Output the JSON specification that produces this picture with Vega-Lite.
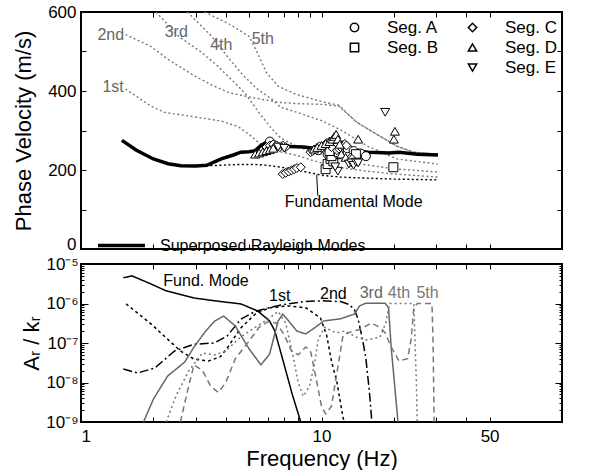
{
  "$schema": "https://vega.github.io/schema/vega-lite/v6.json",
  "padding": {"left": 11, "top": 2, "right": 23, "bottom": 0},
  "bounds": "flush",
  "config": {
    "font": "Liberation Sans",
    "view": {"stroke": "black", "strokeWidth": 2},
    "axis": {"domain": false, "grid": false, "labelFont": "Liberation Sans", "labelFontSize": 17, "labelColor": "black", "titleFont": "Liberation Sans", "titleFontSize": 22, "titleFontWeight": "normal", "titleColor": "black", "tickColor": "black", "tickWidth": 1},
    "legend": {"labelFont": "Liberation Sans", "labelColor": "black", "labelLimit": 0}
  },
  "datasets": {
    "modesTop": [
      {"mode":"Fundamental","f":1.48,"v":275},{"mode":"Fundamental","f":1.7,"v":250},{"mode":"Fundamental","f":2.0,"v":228},{"mode":"Fundamental","f":2.3,"v":216},{"mode":"Fundamental","f":2.6,"v":211},{"mode":"Fundamental","f":3.0,"v":210},{"mode":"Fundamental","f":3.5,"v":211},{"mode":"Fundamental","f":4.5,"v":214},{"mode":"Fundamental","f":5.3,"v":214},{"mode":"Fundamental","f":5.9,"v":212},{"mode":"Fundamental","f":6.8,"v":207},{"mode":"Fundamental","f":7.8,"v":201},{"mode":"Fundamental","f":8.8,"v":194},{"mode":"Fundamental","f":10.2,"v":186},{"mode":"Fundamental","f":12,"v":182},{"mode":"Fundamental","f":14.5,"v":180},{"mode":"Fundamental","f":20,"v":177},{"mode":"Fundamental","f":30.5,"v":175},
      {"mode":"1st","f":1.53,"v":405},{"mode":"1st","f":1.95,"v":362},{"mode":"1st","f":2.22,"v":346},{"mode":"1st","f":2.93,"v":335},{"mode":"1st","f":3.83,"v":324},{"mode":"1st","f":4.5,"v":310},{"mode":"1st","f":5.0,"v":290},{"mode":"1st","f":5.6,"v":265},{"mode":"1st","f":6.2,"v":250},{"mode":"1st","f":7,"v":244},{"mode":"1st","f":8,"v":236},{"mode":"1st","f":9,"v":226},{"mode":"1st","f":10,"v":218},{"mode":"1st","f":12,"v":206},{"mode":"1st","f":15,"v":198},{"mode":"1st","f":20,"v":190},{"mode":"1st","f":30.5,"v":182},
      {"mode":"2nd","f":1.53,"v":543},{"mode":"2nd","f":1.95,"v":513},{"mode":"2nd","f":2.3,"v":480},{"mode":"2nd","f":2.93,"v":440},{"mode":"2nd","f":3.5,"v":415},{"mode":"2nd","f":4.15,"v":395},{"mode":"2nd","f":5.0,"v":385},{"mode":"2nd","f":6.0,"v":376},{"mode":"2nd","f":6.75,"v":371},{"mode":"2nd","f":8,"v":368},{"mode":"2nd","f":10.2,"v":366},{"mode":"2nd","f":11.8,"v":362},{"mode":"2nd","f":14,"v":321},{"mode":"2nd","f":16.9,"v":291},{"mode":"2nd","f":20.6,"v":260},{"mode":"2nd","f":24.2,"v":245},{"mode":"2nd","f":30.5,"v":240},
      {"mode":"3rd","f":2.05,"v":600},{"mode":"3rd","f":2.55,"v":538},{"mode":"3rd","f":3.17,"v":498},{"mode":"3rd","f":3.7,"v":463},{"mode":"3rd","f":4.2,"v":430},{"mode":"3rd","f":4.8,"v":395},{"mode":"3rd","f":5.5,"v":345},{"mode":"3rd","f":6.2,"v":305},{"mode":"3rd","f":6.8,"v":280},{"mode":"3rd","f":8,"v":258},{"mode":"3rd","f":10,"v":240},{"mode":"3rd","f":12,"v":227},{"mode":"3rd","f":15,"v":214},{"mode":"3rd","f":20,"v":203},{"mode":"3rd","f":30.5,"v":195},
      {"mode":"4th","f":2.77,"v":600},{"mode":"4th","f":3.17,"v":564},{"mode":"4th","f":3.5,"v":538},{"mode":"4th","f":4.15,"v":480},{"mode":"4th","f":4.77,"v":437},{"mode":"4th","f":5.43,"v":404},{"mode":"4th","f":6.2,"v":380},{"mode":"4th","f":6.75,"v":359},{"mode":"4th","f":8,"v":345},{"mode":"4th","f":10,"v":325},{"mode":"4th","f":11.9,"v":303},{"mode":"4th","f":15.6,"v":260},{"mode":"4th","f":20.6,"v":228},{"mode":"4th","f":30.5,"v":215},
      {"mode":"5th","f":3.26,"v":600},{"mode":"5th","f":4.15,"v":569},{"mode":"5th","f":5.0,"v":538},{"mode":"5th","f":5.4,"v":498},{"mode":"5th","f":5.9,"v":447},{"mode":"5th","f":6.6,"v":412},{"mode":"5th","f":7.8,"v":392},{"mode":"5th","f":10.2,"v":372},{"mode":"5th","f":11.8,"v":364},{"mode":"5th","f":14,"v":321},{"mode":"5th","f":16.9,"v":291},{"mode":"5th","f":20.6,"v":260},{"mode":"5th","f":24.2,"v":245},{"mode":"5th","f":30.5,"v":240}
    ],
    "superposed": [
      {"f":1.48,"v":275},{"f":1.7,"v":250},{"f":2.0,"v":228},{"f":2.3,"v":216},{"f":2.6,"v":211},{"f":3.0,"v":210},{"f":3.33,"v":212},{"f":3.83,"v":228},{"f":4.3,"v":238},{"f":4.62,"v":245},{"f":5.0,"v":246},{"f":5.3,"v":249},{"f":5.6,"v":262},{"f":5.9,"v":270},{"f":6.2,"v":268},{"f":6.9,"v":260},{"f":8.4,"v":258},{"f":9.9,"v":253},{"f":11,"v":260},{"f":12.6,"v":260},{"f":13.5,"v":252},{"f":14.4,"v":248},{"f":15.6,"v":245},{"f":17,"v":244},{"f":19,"v":243},{"f":21,"v":245},{"f":25,"v":240},{"f":30.5,"v":238}
    ],
    "points": [
      {"seg":"Seg. A","f":6.1,"v":272},{"seg":"Seg. A","f":6.4,"v":262},{"seg":"Seg. A","f":9.7,"v":250},{"seg":"Seg. A","f":11.6,"v":258},{"seg":"Seg. A","f":12.3,"v":262},{"seg":"Seg. A","f":12.8,"v":255},{"seg":"Seg. A","f":13.6,"v":248},{"seg":"Seg. A","f":14.5,"v":242},{"seg":"Seg. A","f":15.3,"v":235},{"seg":"Seg. A","f":10.6,"v":240},
      {"seg":"Seg. B","f":10.4,"v":202},{"seg":"Seg. B","f":10.6,"v":215},{"seg":"Seg. B","f":10.9,"v":228},{"seg":"Seg. B","f":11.2,"v":222},{"seg":"Seg. B","f":11.5,"v":240},{"seg":"Seg. B","f":11.0,"v":235},{"seg":"Seg. B","f":13.9,"v":240},{"seg":"Seg. B","f":19.9,"v":207},{"seg":"Seg. B","f":10.8,"v":248},{"seg":"Seg. B","f":11.8,"v":245},
      {"seg":"Seg. C","f":5.9,"v":258},{"seg":"Seg. C","f":6.1,"v":262},{"seg":"Seg. C","f":6.3,"v":265},{"seg":"Seg. C","f":6.5,"v":262},{"seg":"Seg. C","f":6.7,"v":258},{"seg":"Seg. C","f":6.9,"v":262},{"seg":"Seg. C","f":7.1,"v":258},
      {"seg":"Seg. C","f":6.9,"v":190},{"seg":"Seg. C","f":7.1,"v":193},{"seg":"Seg. C","f":7.3,"v":196},{"seg":"Seg. C","f":7.5,"v":199},{"seg":"Seg. C","f":7.7,"v":202},{"seg":"Seg. C","f":7.9,"v":205},{"seg":"Seg. C","f":8.2,"v":207},
      {"seg":"Seg. C","f":9.0,"v":245},{"seg":"Seg. C","f":9.2,"v":248},{"seg":"Seg. C","f":9.4,"v":252},{"seg":"Seg. C","f":9.6,"v":256},{"seg":"Seg. C","f":9.8,"v":260},{"seg":"Seg. C","f":10.0,"v":255},{"seg":"Seg. C","f":10.3,"v":262},{"seg":"Seg. C","f":10.5,"v":268},{"seg":"Seg. C","f":10.8,"v":272},{"seg":"Seg. C","f":11.0,"v":258},
      {"seg":"Seg. C","f":11.6,"v":250},{"seg":"Seg. C","f":11.8,"v":254},{"seg":"Seg. C","f":12.0,"v":258},{"seg":"Seg. C","f":12.2,"v":262},{"seg":"Seg. C","f":12.5,"v":266},{"seg":"Seg. C","f":12.7,"v":262},{"seg":"Seg. C","f":13.2,"v":230},{"seg":"Seg. C","f":13.4,"v":228},
      {"seg":"Seg. D","f":5.3,"v":240},{"seg":"Seg. D","f":5.5,"v":243},{"seg":"Seg. D","f":5.7,"v":246},{"seg":"Seg. D","f":5.9,"v":249},{"seg":"Seg. D","f":6.1,"v":252},{"seg":"Seg. D","f":6.3,"v":255},
      {"seg":"Seg. D","f":9.3,"v":253},{"seg":"Seg. D","f":9.6,"v":257},{"seg":"Seg. D","f":10.0,"v":262},{"seg":"Seg. D","f":10.4,"v":267},{"seg":"Seg. D","f":10.8,"v":272},{"seg":"Seg. D","f":11.1,"v":278},{"seg":"Seg. D","f":11.3,"v":285},{"seg":"Seg. D","f":11.5,"v":290},{"seg":"Seg. D","f":11.7,"v":278},{"seg":"Seg. D","f":11.9,"v":265},{"seg":"Seg. D","f":12.1,"v":240},{"seg":"Seg. D","f":12.6,"v":232},{"seg":"Seg. D","f":14.2,"v":278},{"seg":"Seg. D","f":20.2,"v":298},{"seg":"Seg. D","f":20.0,"v":278},
      {"seg":"Seg. E","f":6.6,"v":258},{"seg":"Seg. E","f":7.0,"v":255},{"seg":"Seg. E","f":11.7,"v":197},{"seg":"Seg. E","f":13.0,"v":215},{"seg":"Seg. E","f":13.3,"v":218},{"seg":"Seg. E","f":13.6,"v":212},{"seg":"Seg. E","f":13.9,"v":220},{"seg":"Seg. E","f":14.2,"v":218},{"seg":"Seg. E","f":18.4,"v":346},{"seg":"Seg. E","f":11.4,"v":208}
    ],
    "labelsTop": [
      {"t":"1st","f":1.36,"v":410},{"t":"2nd","f":1.33,"v":543},{"t":"3rd","f":2.49,"v":549},{"t":"4th","f":3.83,"v":517},{"t":"5th","f":5.7,"v":531}
    ],
    "fundNote": [{"t":"Fundamental Mode","f":13.6,"v":119,"f1":9.55,"v1":188,"f2":9.65,"v2":135}],
    "modesBottom": [
      {"mode":"Fund","f":1.5,"A":4.47e-6},{"mode":"Fund","f":1.63,"A":5.01e-6},{"mode":"Fund","f":1.96,"A":3.09e-6},{"mode":"Fund","f":2.26,"A":2.09e-6},{"mode":"Fund","f":2.95,"A":1.38e-6},{"mode":"Fund","f":3.67,"A":1.15e-6},{"mode":"Fund","f":4.62,"A":9.77e-7},{"mode":"Fund","f":5.43,"A":6.46e-7},{"mode":"Fund","f":6.08,"A":3.63e-7},{"mode":"Fund","f":6.4,"A":2.0e-7},{"mode":"Fund","f":6.93,"A":3.47e-8},{"mode":"Fund","f":7.55,"A":5.13e-9},{"mode":"Fund","f":8.2,"A":1.0e-9},
      {"mode":"1st","f":1.54,"A":9.8e-7},{"mode":"1st","f":1.96,"A":3.0e-7},{"mode":"1st","f":2.26,"A":1.35e-7},{"mode":"1st","f":2.59,"A":6.3e-8},{"mode":"1st","f":2.95,"A":3.9e-8},{"mode":"1st","f":3.39,"A":3.5e-8},{"mode":"1st","f":3.8,"A":4.5e-8},{"mode":"1st","f":4.05,"A":7.4e-8},{"mode":"1st","f":4.62,"A":2.4e-7},{"mode":"1st","f":5.3,"A":5.4e-7},{"mode":"1st","f":6.08,"A":7.8e-7},{"mode":"1st","f":7.3,"A":8.7e-7},{"mode":"1st","f":8.6,"A":7.8e-7},{"mode":"1st","f":9.9,"A":4.3e-7},{"mode":"1st","f":10.5,"A":1.6e-7},{"mode":"1st","f":11,"A":3.5e-8},{"mode":"1st","f":11.6,"A":1.0e-8},{"mode":"1st","f":12.3,"A":1.26e-9},{"mode":"1st","f":12.45,"A":1.0e-9},
      {"mode":"2nd","f":1.5,"A":2.19e-8},{"mode":"2nd","f":1.72,"A":1.74e-8},{"mode":"2nd","f":2.03,"A":2.34e-8},{"mode":"2nd","f":2.45,"A":6.3e-8},{"mode":"2nd","f":2.95,"A":9.3e-8},{"mode":"2nd","f":3.58,"A":1.0e-7},{"mode":"2nd","f":4.05,"A":1.5e-7},{"mode":"2nd","f":4.62,"A":4.0e-7},{"mode":"2nd","f":5.3,"A":6.3e-7},{"mode":"2nd","f":6.1,"A":7.9e-7},{"mode":"2nd","f":7.0,"A":9.5e-7},{"mode":"2nd","f":8.5,"A":1.12e-6},{"mode":"2nd","f":10,"A":1.17e-6},{"mode":"2nd","f":12,"A":1.12e-6},{"mode":"2nd","f":13,"A":9.5e-7},{"mode":"2nd","f":13.7,"A":7.1e-7},{"mode":"2nd","f":14.2,"A":4.0e-7},{"mode":"2nd","f":14.8,"A":1.26e-7},{"mode":"2nd","f":15.3,"A":4.0e-8},{"mode":"2nd","f":15.8,"A":6.3e-9},{"mode":"2nd","f":16.2,"A":1.0e-9},
      {"mode":"3rd","f":1.82,"A":1.0e-9},{"mode":"3rd","f":2.0,"A":3.8e-9},{"mode":"3rd","f":2.29,"A":1.45e-8},{"mode":"3rd","f":2.7,"A":3.3e-8},{"mode":"3rd","f":2.95,"A":7.9e-8},{"mode":"3rd","f":3.3,"A":2.0e-7},{"mode":"3rd","f":3.6,"A":3.6e-7},{"mode":"3rd","f":3.92,"A":4.8e-7},{"mode":"3rd","f":4.38,"A":2.7e-7},{"mode":"3rd","f":5.0,"A":7.1e-8},{"mode":"3rd","f":5.6,"A":2.8e-8},{"mode":"3rd","f":6.08,"A":5.2e-8},{"mode":"3rd","f":6.6,"A":3.6e-7},{"mode":"3rd","f":6.9,"A":5.4e-7},{"mode":"3rd","f":7.3,"A":3.6e-7},{"mode":"3rd","f":7.9,"A":2.0e-7},{"mode":"3rd","f":8.6,"A":1.7e-7},{"mode":"3rd","f":9.35,"A":2.4e-7},{"mode":"3rd","f":10.2,"A":3.6e-7},{"mode":"3rd","f":12,"A":4.1e-7},{"mode":"3rd","f":13.7,"A":5.4e-7},{"mode":"3rd","f":14.4,"A":8.7e-7},{"mode":"3rd","f":15.3,"A":1.02e-6},{"mode":"3rd","f":18.4,"A":1.02e-6},{"mode":"3rd","f":19,"A":7.8e-7},{"mode":"3rd","f":19.5,"A":7.4e-8},{"mode":"3rd","f":20.3,"A":5.1e-9},{"mode":"3rd","f":20.8,"A":1.0e-9},
      {"mode":"4th","f":2.26,"A":1.0e-9},{"mode":"4th","f":2.5,"A":5.0e-9},{"mode":"4th","f":2.81,"A":2.0e-8},{"mode":"4th","f":3.2,"A":5.6e-8},{"mode":"4th","f":3.6,"A":5.0e-8},{"mode":"4th","f":4.0,"A":6.3e-8},{"mode":"4th","f":4.6,"A":1.4e-7},{"mode":"4th","f":5.3,"A":2.5e-7},{"mode":"4th","f":6.0,"A":4.0e-7},{"mode":"4th","f":6.6,"A":6.3e-7},{"mode":"4th","f":7.1,"A":3.2e-7},{"mode":"4th","f":7.6,"A":5.0e-8},{"mode":"4th","f":8.0,"A":1.0e-8},{"mode":"4th","f":8.4,"A":4.5e-9},{"mode":"4th","f":8.9,"A":7.9e-9},{"mode":"4th","f":9.3,"A":2.5e-8},{"mode":"4th","f":9.7,"A":1.26e-7},{"mode":"4th","f":10.3,"A":2.5e-7},{"mode":"4th","f":11.5,"A":1.8e-7},{"mode":"4th","f":12.5,"A":2.0e-7},{"mode":"4th","f":14,"A":1.4e-7},{"mode":"4th","f":15.5,"A":1.2e-7},{"mode":"4th","f":17.5,"A":1.4e-7},{"mode":"4th","f":18.5,"A":3.2e-7},{"mode":"4th","f":19.2,"A":1.0e-6},{"mode":"4th","f":24.2,"A":1.0e-6},{"mode":"4th","f":24.5,"A":1.0e-7},{"mode":"4th","f":24.8,"A":1.0e-8},{"mode":"4th","f":25.0,"A":1.0e-9},
      {"mode":"5th","f":2.59,"A":1.0e-9},{"mode":"5th","f":2.8,"A":7.9e-9},{"mode":"5th","f":2.95,"A":2.8e-8},{"mode":"5th","f":3.2,"A":2.0e-8},{"mode":"5th","f":3.47,"A":7.9e-9},{"mode":"5th","f":3.73,"A":5.6e-9},{"mode":"5th","f":4.0,"A":1.0e-8},{"mode":"5th","f":4.38,"A":4.0e-8},{"mode":"5th","f":5.0,"A":1.12e-7},{"mode":"5th","f":5.5,"A":2.5e-7},{"mode":"5th","f":6.0,"A":3.5e-7},{"mode":"5th","f":6.5,"A":3.2e-7},{"mode":"5th","f":7.0,"A":1.6e-7},{"mode":"5th","f":7.5,"A":6.3e-8},{"mode":"5th","f":8.0,"A":5.0e-8},{"mode":"5th","f":8.6,"A":7.9e-8},{"mode":"5th","f":9.0,"A":6.3e-8},{"mode":"5th","f":9.5,"A":1.26e-8},{"mode":"5th","f":10.0,"A":2.5e-9},{"mode":"5th","f":10.4,"A":1.6e-9},{"mode":"5th","f":11.0,"A":2.5e-9},{"mode":"5th","f":11.7,"A":2.5e-8},{"mode":"5th","f":12.3,"A":1.6e-7},{"mode":"5th","f":13.5,"A":2.0e-7},{"mode":"5th","f":14.5,"A":2.2e-7},{"mode":"5th","f":16.1,"A":3.2e-7},{"mode":"5th","f":17.5,"A":2.5e-7},{"mode":"5th","f":18.4,"A":1.8e-7},{"mode":"5th","f":19.5,"A":7.9e-8},{"mode":"5th","f":21,"A":3.5e-8},{"mode":"5th","f":22.8,"A":4.0e-8},{"mode":"5th","f":23.6,"A":1.26e-7},{"mode":"5th","f":24.2,"A":7.9e-7},{"mode":"5th","f":25,"A":1.0e-6},{"mode":"5th","f":28.8,"A":1.0e-6},{"mode":"5th","f":29.1,"A":1.0e-7},{"mode":"5th","f":29.4,"A":1.0e-9}
    ],
    "labelsBottom": [
      {"mode":"Fund","t":"Fund. Mode","f":3.31,"A":3.7e-6},{"mode":"1st","t":"1st","f":6.7,"A":1.55e-6},{"mode":"2nd","t":"2nd","f":11.2,"A":1.74e-6},{"mode":"3rd","t":"3rd","f":16.1,"A":1.86e-6},{"mode":"4th","t":"4th","f":21.0,"A":1.86e-6},{"mode":"5th","t":"5th","f":27.6,"A":1.86e-6}
    ]
  },
  "vconcat": [
    {
      "width": 481,
      "height": 237,
      "layer": [
        {
          "data": {"name": "modesTop"},
          "transform": [{"filter": "datum.mode == 'Fundamental'"}],
          "mark": {"type": "line", "color": "black", "strokeDash": [2, 2.5], "strokeWidth": 1.4, "clip": true},
          "encoding": {
            "x": {"field": "f", "type": "quantitative", "scale": {"type": "log", "domain": [1, 50]},
                  "axis": {"orient": "bottom", "values": [1,2,3,4,5,6,7,8,9,10,20,30,40,50], "labels": false, "tickSize": -5, "title": null, "minExtent": 0, "maxExtent": 0}},
            "y": {"field": "v", "type": "quantitative", "scale": {"domain": [0, 600]},
                  "axis": {"orient": "left", "values": [0,100,200,300,400,500,600], "labelExpr": "datum.value % 200 == 0 ? datum.label : ''",
                           "labelBaseline": {"condition": {"test": "datum.value == 0", "value": "alphabetic"}, "value": "middle"},
                           "tickSize": -5, "labelPadding": 10, "title": "Phase Velocity (m/s)", "titlePadding": 12}}
          }
        },
        {
          "data": {"name": "modesTop"},
          "transform": [{"filter": "datum.mode != 'Fundamental'"}],
          "mark": {"type": "line", "color": "#777777", "strokeDash": [2, 2.5], "strokeWidth": 1.4, "clip": true},
          "encoding": {
            "detail": {"field": "mode"},
            "x": {"field": "f", "type": "quantitative", "axis": {"orient": "top", "values": [1,2,3,4,5,6,7,8,9,10,20,30,40,50], "labels": false, "tickSize": -5, "title": null, "minExtent": 0, "maxExtent": 0}},
            "y": {"field": "v", "type": "quantitative", "axis": {"orient": "right", "values": [0,100,200,300,400,500,600], "labels": false, "tickSize": -5, "title": null, "minExtent": 0, "maxExtent": 0}}
          }
        },
        {
          "data": {"name": "superposed"},
          "mark": {"type": "line", "strokeWidth": 3.5, "clip": true},
          "encoding": {
            "x": {"field": "f", "type": "quantitative", "axis": null},
            "y": {"field": "v", "type": "quantitative", "axis": null},
            "color": {"datum": "Superposed Rayleigh Modes", "type": "nominal", "scale": {"range": ["black"]},
                      "legend": {"orient": "none", "legendX": 15, "legendY": 208, "title": null, "padding": 0, "symbolSize": 2209, "symbolStrokeWidth": 3.5, "labelFontSize": 16, "labelOffset": 13, "labelLimit": 0}}
          }
        },
        {
          "data": {"name": "points"},
          "transform": [{"filter": "datum.seg == 'Seg. A' || datum.seg == 'Seg. B'"}],
          "mark": {"type": "point", "filled": true, "fill": "white", "stroke": "black", "strokeWidth": 1, "size": 80, "opacity": 1},
          "encoding": {
            "x": {"field": "f", "type": "quantitative", "axis": null},
            "y": {"field": "v", "type": "quantitative", "axis": null},
            "shape": {"field": "seg", "type": "nominal", "scale": {"domain": ["Seg. A", "Seg. B"], "range": ["circle", "square"]},
                      "legend": {"orient": "none", "legendX": 265, "legendY": 7, "title": null, "padding": 0, "rowPadding": 2, "symbolSize": 70, "labelFontSize": 17, "labelOffset": 24,
                                 "encode": {"symbols": {"update": {"fill": {"value": "white"}, "stroke": {"value": "black"}, "strokeWidth": {"value": 1}, "opacity": {"value": 1}}}}}}
          }
        },
        {
          "data": {"name": "points"},
          "transform": [{"filter": "datum.seg != 'Seg. A' && datum.seg != 'Seg. B'"}],
          "mark": {"type": "point", "filled": true, "fill": "white", "stroke": "black", "strokeWidth": 1, "size": 80, "opacity": 1},
          "encoding": {
            "x": {"field": "f", "type": "quantitative", "axis": null},
            "y": {"field": "v", "type": "quantitative", "axis": null},
            "shape": {"field": "seg", "type": "nominal", "scale": {"domain": ["Seg. C", "Seg. D", "Seg. E"], "range": ["diamond", "triangle-up", "triangle-down"]},
                      "legend": {"orient": "none", "legendX": 383, "legendY": 7, "title": null, "padding": 0, "rowPadding": 2, "symbolSize": 70, "labelFontSize": 17, "labelOffset": 24,
                                 "encode": {"symbols": {"update": {"fill": {"value": "white"}, "stroke": {"value": "black"}, "strokeWidth": {"value": 1}, "opacity": {"value": 1}}}}}}
          }
        },
        {
          "data": {"name": "labelsTop"},
          "mark": {"type": "text", "fontSize": 16, "color": "#666666", "align": "center", "baseline": "middle"},
          "encoding": {
            "x": {"field": "f", "type": "quantitative", "axis": null},
            "y": {"field": "v", "type": "quantitative", "axis": null},
            "text": {"field": "t"}
          }
        },
        {
          "data": {"name": "fundNote"},
          "mark": {"type": "rule", "color": "black", "strokeWidth": 1},
          "encoding": {
            "x": {"field": "f1", "type": "quantitative", "axis": null},
            "y": {"field": "v1", "type": "quantitative", "axis": null},
            "x2": {"field": "f2"},
            "y2": {"field": "v2"}
          }
        },
        {
          "data": {"name": "fundNote"},
          "mark": {"type": "text", "fontSize": 16, "color": "black", "align": "center", "baseline": "middle"},
          "encoding": {
            "x": {"field": "f", "type": "quantitative", "axis": null},
            "y": {"field": "v", "type": "quantitative", "axis": null},
            "text": {"field": "t"}
          }
        }
      ],
      "resolve": {"scale": {"shape": "independent", "color": "independent"}, "axis": {"x": "independent", "y": "independent"}}
    },
    {
      "width": 481,
      "height": 158,
      "layer": [
        {
          "data": {"name": "modesBottom"},
          "mark": {"type": "line", "strokeWidth": 1.5, "clip": true},
          "encoding": {
            "x": {"field": "f", "type": "quantitative", "scale": {"type": "log", "domain": [1, 50]},
                  "axis": {"orient": "bottom", "values": [1,2,3,4,5,6,7,8,9,10,20,30,40,50], "labelExpr": "datum.value == 1 ? '1' : datum.value == 10 ? '10' : datum.value == 50 ? '50' : ''", "tickSize": -5, "labelPadding": 11, "title": "Frequency (Hz)", "titlePadding": 4}},
            "y": {"field": "A", "type": "quantitative", "scale": {"type": "log", "domain": [1e-9, 1e-5]},
                  "axis": {"orient": "left", "values": [1e-9,2e-9,3e-9,4e-9,5e-9,6e-9,7e-9,8e-9,9e-9,1e-8,2e-8,3e-8,4e-8,5e-8,6e-8,7e-8,8e-8,9e-8,1e-7,2e-7,3e-7,4e-7,5e-7,6e-7,7e-7,8e-7,9e-7,1e-6,2e-6,3e-6,4e-6,5e-6,6e-6,7e-6,8e-6,9e-6,1e-5],
                           "labelExpr": "datum.value == 1e-5 ? '10⁻⁵' : datum.value == 1e-6 ? '10⁻⁶' : datum.value == 1e-7 ? '10⁻⁷' : datum.value == 1e-8 ? '10⁻⁸' : datum.value == 1e-9 ? '10⁻⁹' : ''",
                           "tickSize": {"condition": {"test": "abs(log(datum.value)/LN10 - round(log(datum.value)/LN10)) < 0.001", "value": -7}, "value": -3},
                           "labelPadding": 10, "title": "Aᵣ / kᵣ", "titlePadding": 2}},
            "color": {"field": "mode", "type": "nominal", "scale": {"domain": ["Fund", "1st", "2nd", "3rd", "4th", "5th"], "range": ["black", "black", "black", "#666666", "#777777", "#777777"]}, "legend": null},
            "strokeDash": {"field": "mode", "type": "nominal", "scale": {"domain": ["Fund", "1st", "2nd", "3rd", "4th", "5th"], "range": [[1, 0], [3, 3], [9, 3, 2, 3], [1, 0], [2, 3], [6, 4]]}, "legend": null}
          }
        },
        {
          "data": {"name": "labelsBottom"},
          "mark": {"type": "text", "fontSize": 16, "align": "center", "baseline": "middle"},
          "encoding": {
            "x": {"field": "f", "type": "quantitative", "axis": {"orient": "top", "values": [1,2,3,4,5,6,7,8,9,10,20,30,40,50], "labels": false, "tickSize": -5, "title": null, "minExtent": 0, "maxExtent": 0}},
            "y": {"field": "A", "type": "quantitative",
                  "axis": {"orient": "right", "values": [1e-9,2e-9,3e-9,4e-9,5e-9,6e-9,7e-9,8e-9,9e-9,1e-8,2e-8,3e-8,4e-8,5e-8,6e-8,7e-8,8e-8,9e-8,1e-7,2e-7,3e-7,4e-7,5e-7,6e-7,7e-7,8e-7,9e-7,1e-6,2e-6,3e-6,4e-6,5e-6,6e-6,7e-6,8e-6,9e-6,1e-5], "labels": false,
                           "tickSize": {"condition": {"test": "abs(log(datum.value)/LN10 - round(log(datum.value)/LN10)) < 0.001", "value": -7}, "value": -3}, "title": null, "minExtent": 0, "maxExtent": 0}},
            "text": {"field": "t"},
            "color": {"field": "mode", "type": "nominal", "legend": null}
          }
        }
      ],
      "resolve": {"axis": {"x": "independent", "y": "independent"}}
    }
  ],
  "spacing": 15
}
